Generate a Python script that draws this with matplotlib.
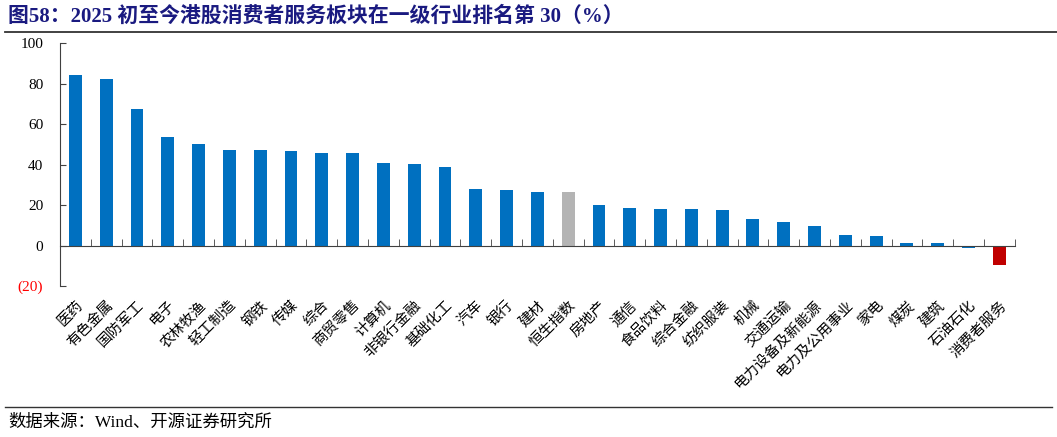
import numpy as np
import matplotlib
matplotlib.use("Agg")
import matplotlib.pyplot as plt
from matplotlib.lines import Line2D

# chart data
industries = ["医药", "有色金属", "国防军工", "电子", "农林牧渔", "轻工制造", "钢铁", "传媒",
              "综合", "商贸零售", "计算机", "非银行金融", "基础化工", "汽车", "银行", "建材",
              "恒生指数", "房地产", "通信", "食品饮料", "综合金融", "纺织服装", "机械", "交通运输",
              "电力设备及新能源", "电力及公用事业", "家电", "煤炭", "建筑", "石油石化", "消费者服务"]
returns = [84.4, 82.1, 67.6, 53.5, 50.2, 47.4, 47.2, 46.7, 45.7, 45.6, 40.5, 40.3, 38.8,
           28.0, 27.3, 26.5, 26.5, 20.1, 18.3, 18.1, 18.0, 17.5, 13.2, 11.4, 9.7, 5.4,
           4.8, 1.3, 1.2, -1.0, -9.7]
ytick_vals = [-20, 0, 20, 40, 60, 80, 100]
ytick_text = ["(20)", "0", "20", "40", "60", "80", "100"]

BLUE = "#0070C0"
GREY = "#B4B4B4"
RED = "#C00000"
NAVY = "#1A1A80"

plt.rcParams['font.family'] = ['Liberation Serif', 'Noto Sans CJK SC']

fig = plt.figure(figsize=(10.57, 4.37), dpi=100)
ax = fig.add_axes([0.0568, 0.3455, 0.9032, 0.5561])

colors = []
for name in industries:
    if name == "恒生指数":
        colors.append(GREY)
    elif name == "消费者服务":
        colors.append(RED)
    else:
        colors.append(BLUE)

x = np.arange(len(industries))
ax.bar(x, returns, width=0.42, color=colors, zorder=2)

ax.set_xlim(-0.5, len(industries) - 0.5)
ax.set_ylim(-20, 100)

for s in ["top", "right"]:
    ax.spines[s].set_visible(False)
ax.spines["bottom"].set_position(("data", 0))
ax.spines["bottom"].set_color("#404040")
ax.spines["left"].set_color("#404040")
ax.spines["bottom"].set_zorder(3)

ax.set_xticks(x)
ax.set_xticklabels(industries, rotation=45, ha="right", va="top",
                   rotation_mode="anchor", family=["Noto Sans CJK SC"], fontsize=10.5)
ax.set_xticks(np.arange(-0.5, len(industries)), minor=True)
ax.tick_params(axis="x", which="major", length=0, pad=38)
ax.tick_params(axis="x", which="minor", direction="in", length=5, color="#404040")

ax.set_yticks(ytick_vals)
ax.set_yticklabels(ytick_text, fontsize=11)
ax.tick_params(axis="y", direction="in", length=4, pad=12, color="#404040")
for lab, v in zip(ax.get_yticklabels(), ytick_vals):
    if v < 0:
        lab.set_color("red")

# title, rules and source
fig.text(0.008, 0.962, "图58：2025 初至今港股消费者服务板块在一级行业排名第 30（%）",
         fontsize=15, fontweight="bold", color=NAVY, va="center", ha="left")
fig.add_artist(Line2D([0.005, 1.0], [0.927, 0.927], color="#333333", lw=1.3,
                      transform=fig.transFigure))
fig.add_artist(Line2D([0.005, 0.995], [0.069, 0.069], color="#333333", lw=1.0,
                      transform=fig.transFigure))
fig.text(0.008, 0.033, "数据来源：Wind、开源证券研究所", fontsize=12.5, va="center", ha="left")

fig.savefig("out.png", dpi=100)
